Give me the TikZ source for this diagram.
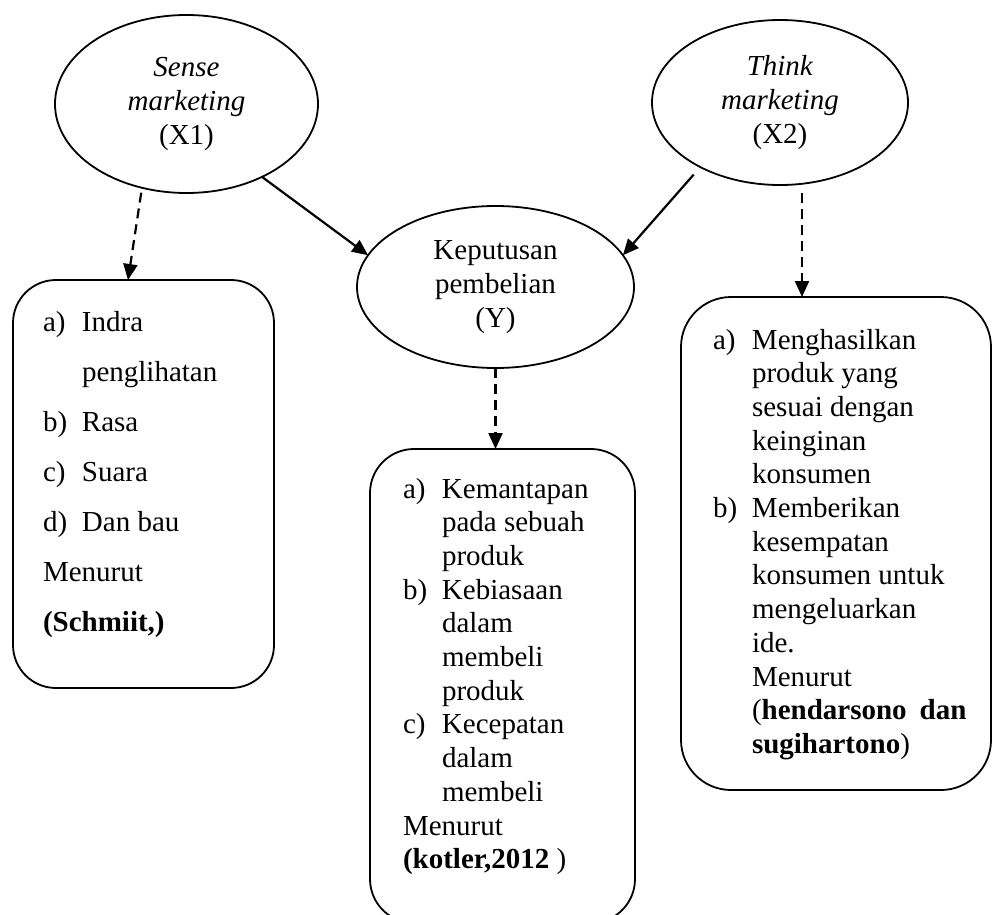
\documentclass[tikz,border=0pt]{standalone}
\usepackage{fontspec}
\setmainfont{Liberation Serif}
\usetikzlibrary{shapes.geometric,arrows.meta,calc}
\newcommand{\lab}[1]{\makebox[39pt][l]{#1}}
\newcommand{\ind}{\hspace*{39pt}}
\begin{document}
\begin{tikzpicture}[x=1pt,y=-1pt,
  every node/.style={inner sep=0pt,outer sep=0pt},
  oval/.style={ellipse,draw,line width=1.8pt,align=center,font=\fontsize{29}{34}\selectfont},
  rbox/.style={rectangle,draw,line width=1.8pt},
  txt/.style={anchor=base west},
  arr/.style={line width=2.2pt,-{Triangle[length=16pt,width=14pt]}},
  darr/.style={arr,dash pattern=on 10pt off 6pt}]
\useasboundingbox (0,0) rectangle (993,915);
\clip (0,0) rectangle (993,915);

% ellipses
\node[oval,minimum width=263pt,minimum height=178pt] (X1) at (186.5,104)
  {\textit{Sense}\\\textit{marketing}\\(X1)};
\node[oval,minimum width=256pt,minimum height=165pt] (X2) at (780,102.5)
  {\textit{Think}\\\textit{marketing}\\(X2)};
\node[oval,minimum width=277pt,minimum height=162pt] (Y) at (495.5,287)
  {Keputusan\\pembelian\\(Y)};

% boxes
\node[rbox,rounded corners=43pt,minimum width=261pt,minimum height=408pt] (lbox) at (143.5,484) {};
\node[rbox,rounded corners=44pt,minimum width=265pt,minimum height=474pt] (mbox) at (502.5,686) {};
\node[rbox,rounded corners=50pt,minimum width=310pt,minimum height=493pt] (rbx) at (836,543.5) {};

% box texts
\node[txt,font=\fontsize{29}{50.1}\selectfont] (ltxt) at (43,331)
  {\begin{tabular}[t]{@{}l@{}}\lab{a)}Indra\\ \ind penglihatan\\ \lab{b)}Rasa\\ \lab{c)}Suara\\ \lab{d)}Dan bau\\ Menurut\\ \textbf{(Schmiit,)}\end{tabular}};
\node[txt,font=\fontsize{29}{33.7}\selectfont] (mtxt) at (403,498)
  {\begin{tabular}[t]{@{}l@{}}\lab{a)}Kemantapan\\ \ind pada sebuah\\ \ind produk\\ \lab{b)}Kebiasaan\\ \ind dalam\\ \ind membeli\\ \ind produk\\ \lab{c)}Kecepatan\\ \ind dalam\\ \ind membeli\\ Menurut\\ \textbf{(kotler,2012} )\end{tabular}};
\node[txt,font=\fontsize{29}{33.7}\selectfont] (rtxt) at (713,349)
  {\begin{tabular}[t]{@{}l@{}}\lab{a)}Menghasilkan\\ \ind produk yang\\ \ind sesuai dengan\\ \ind keinginan\\ \ind konsumen\\ \lab{b)}Memberikan\\ \ind kesempatan\\ \ind konsumen untuk\\ \ind mengeluarkan\\ \ind ide.\\ \ind Menurut\\ \ind(\textbf{hendarsono}\hspace{13pt}\textbf{dan}\\ \ind\textbf{sugihartono})\end{tabular}};

% connectors
\coordinate (lt) at (128,280);
\coordinate (rt) at (802,297);
\draw[arr] (X1.-44) -- (Y.166);
\draw[arr,shorten <=10pt] (X2.-141) -- (Y.14);
\draw[darr,shorten <=5pt] (X1.-118) -- (lt);
\draw[darr,shorten <=8pt] (X2.south -| rt) -- (rt);
\draw[darr] (Y.south) -- (Y.south |- mbox.north);
\end{tikzpicture}
\end{document}
